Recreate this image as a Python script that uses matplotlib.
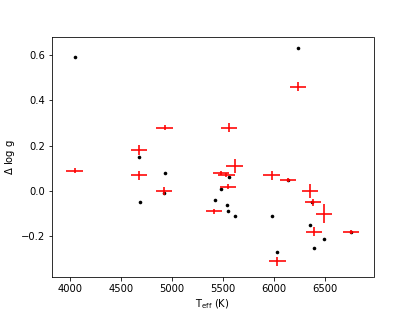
import matplotlib
matplotlib.use("Agg")
import matplotlib.pyplot as plt

# Black dots
dot_teff = [4046, 4677, 4684, 4929, 4922, 5427, 5561, 5486, 5538, 5548,
            5616, 5979, 6139, 6378, 6352, 6493, 6395, 6035, 6755, 6241]
dot_dlogg = [0.59, 0.15, -0.05, 0.08, -0.01, -0.04, 0.06, 0.01, -0.06, -0.09,
             -0.11, -0.11, 0.05, -0.05, -0.15, -0.21, -0.25, -0.27, -0.18, 0.63]

# Red error crosses
cross_teff = [4046, 4677, 4929, 4677, 4922, 5410, 5616, 5479, 5535, 5550,
              5979, 6139, 6352, 6384, 6493, 6395, 6755, 6035, 6241, 5561]
cross_dlogg = [0.09, 0.18, 0.28, 0.07, 0.00, -0.09, 0.11, 0.08, 0.07, 0.02,
               0.07, 0.05, 0.00, -0.05, -0.10, -0.18, -0.18, -0.31, 0.46, 0.28]
cross_yerr = [0.012, 0.022, 0.01, 0.02, 0.017, 0.012, 0.03, 0.01, 0.01, 0.01,
              0.02, 0.008, 0.03, 0.017, 0.041, 0.02, 0.008, 0.02, 0.02, 0.02]
cross_xerr = [80] * len(cross_teff)

DPI = 72
fig, ax = plt.subplots(figsize=(415 / DPI, 311 / DPI), dpi=DPI)
ax.plot(dot_teff, dot_dlogg, 'o', color='black', markersize=3.6,
        markeredgewidth=0, zorder=2)
ax.errorbar(cross_teff, cross_dlogg, xerr=cross_xerr, yerr=cross_yerr,
            fmt='none', ecolor='red', elinewidth=1.6, zorder=3)
ax.set_xlabel(r'T$_{\rm eff}$ (K)')
ax.set_ylabel(r'$\Delta$ log g')
fig.savefig('out.png', dpi=DPI)
